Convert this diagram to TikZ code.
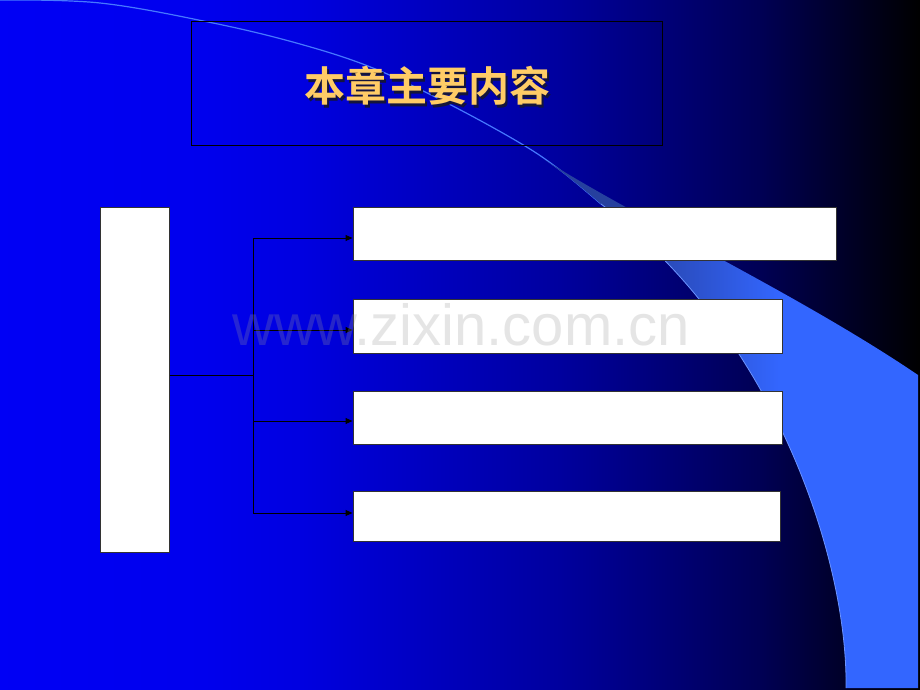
\documentclass[tikz,border=0pt]{standalone}
\usepackage{fontspec}
\newfontfamily\cjkb{Noto Sans CJK SC Bold}
\newfontfamily\wmfont{Liberation Sans}
\usetikzlibrary{arrows.meta}
\pgfdeclarehorizontalshading{bgshade}{100bp}{rgb(0bp)=(0,0,0.96); rgb(25bp)=(0,0,0.96); rgb(36bp)=(0,0,0.93); rgb(41.3bp)=(0,0,0.88); rgb(55.4bp)=(0,0,0.62); rgb(66.3bp)=(0,0,0.33); rgb(75bp)=(0,0,0); rgb(100bp)=(0,0,0)}
\pgfdeclarehorizontalshading{bandshade}{100bp}{rgb(0bp)=(0.15,0.25,0.62); rgb(35bp)=(0.15,0.25,0.62); rgb(56.5bp)=(0.2,0.4,1); rgb(100bp)=(0.2,0.4,1)}
\definecolor{titlecol}{RGB}{255,204,102}
\definecolor{shadowcol}{RGB}{20,20,60}
\definecolor{linecol}{RGB}{70,120,255}
\tikzset{
  wbox/.style={draw=black!80, line width=1pt, fill=white, inner sep=0pt, minimum width=#1},
  conn/.style={draw=black, line width=1pt},
  arr/.style={draw=black, line width=1pt, -{Triangle[length=7pt,width=6pt]}},
}
\begin{document}
\begin{tikzpicture}[x=1pt,y=-1pt]
\useasboundingbox (0,0) rectangle (920,690);
% background
\shade[shading=bgshade] (0,0) rectangle (920,690);
% thin swoosh line
\draw[linecol, line width=1.2pt] plot[smooth, tension=0.6] coordinates {(-2,0) (100,3) (213,23) (300,44) (373,68) (447,103) (520,143) (560,170) (601,204)};
% band
\shade[shading=bandshade] (545,160) .. controls (640,220) and (800,295) .. (918,375)
  -- (918,688) -- (846,688)
  .. controls (848,560) and (775,335) .. (601,204)
  .. controls (580,186) and (560,170) .. (545,160) -- cycle;
\draw[linecol!80!white, line width=0.8pt] (846,688) .. controls (848,560) and (775,335) .. (601,204);
% title box
\node[draw=black, line width=1pt, inner sep=0pt, minimum width=471pt, minimum height=123pt] (T) at (426.5,83.5) {};
\node[font=\cjkb\fontsize{41}{41}\selectfont, inner sep=0pt] (title) at (427.5,87)
  {\rlap{\kern2pt\raisebox{-2.5pt}{\textcolor{shadowcol}{本章主要内容}}}\textcolor{titlecol}{本章主要内容}};
% boxes
\node[wbox=69pt, minimum height=345pt] (L) at (134.5,379.5) {};
\node[wbox=483pt, minimum height=53pt] (B1) at (594.5,233.5) {};
\node[wbox=429pt, minimum height=54pt] (B2) at (567.5,326) {};
\node[wbox=429pt, minimum height=53pt] (B3) at (567.5,417.5) {};
\node[wbox=427pt, minimum height=50pt] (B4) at (566.5,516) {};
% connectors
\coordinate (jn) at (253,375);
\coordinate (a1) at (253,238);
\coordinate (a2) at (253,330);
\coordinate (a3) at (253,421);
\coordinate (a4) at (253,513);
\draw[conn] (jn -| L.east) -- (jn);
\draw[conn] (a1) -- (a4);
\draw[arr] (a1) -- (a1 -| B1.west);
\draw[arr] (a2) -- (a2 -| B2.west);
\draw[arr] (a3) -- (a3 -| B3.west);
\draw[arr] (a4) -- (a4 -| B4.west);
% watermark
\node[anchor=base west, inner sep=0pt, text=black!40, opacity=0.25, font=\wmfont\fontsize{58}{58}\selectfont] (wm) at (232,345) {www.zixin.com.cn};
\end{tikzpicture}
\end{document}
